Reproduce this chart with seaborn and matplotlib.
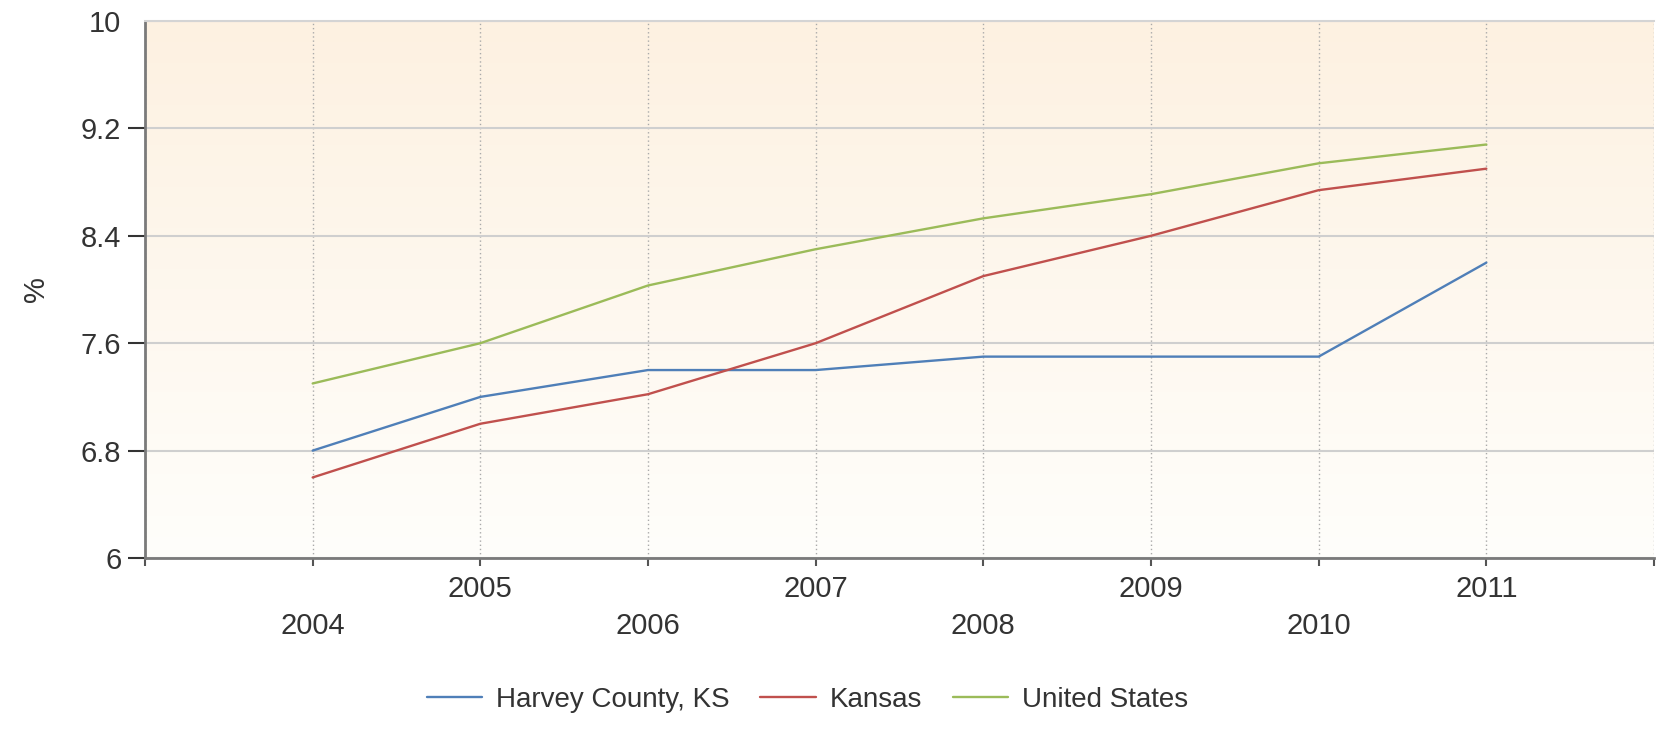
import numpy as np
import pandas as pd
import matplotlib
matplotlib.use("Agg")
import matplotlib.pyplot as plt
import seaborn as sns

# Dados
anos = [2004, 2005, 2006, 2007, 2008, 2009, 2010, 2011]
harvey = [6.8, 7.2, 7.4, 7.4, 7.5, 7.5, 7.5, 8.2]
kansas = [6.6, 7.0, 7.22, 7.6, 8.1, 8.4, 8.74, 8.9]
eua = [7.3, 7.6, 8.03, 8.3, 8.53, 8.71, 8.94, 9.08]
series = ["Harvey County, KS", "Kansas", "United States"]
cores = ["#4f7fb8", "#c0504d", "#9bbb59"]
y_ticks = [6, 6.8, 7.6, 8.4, 9.2, 10]
y_labels = ["6", "6.8", "7.6", "8.4", "9.2", "10"]

df = pd.DataFrame({
    "ano": anos * 3,
    "valor": harvey + kansas + eua,
    "serie": np.repeat(series, len(anos)),
})

sns.set_style("white")
plt.rcParams["font.family"] = ["Liberation Sans", "DejaVu Sans"]

fig = plt.figure(figsize=(16.68, 7.3), dpi=100)
ax = fig.add_axes([145 / 1668, 1 - 558 / 730, (1654 - 145) / 1668, (558 - 21) / 730])

# fundo em degradê (pêssego em cima, quase branco embaixo)
grad = np.linspace(0, 1, 256).reshape(-1, 1)
cmap = matplotlib.colors.LinearSegmentedColormap.from_list("bg", ["#fdf1e1", "#fffefb"])
ax.imshow(grad, aspect="auto", cmap=cmap, extent=[2003, 2012, 6, 10], origin="upper", zorder=0)

sns.lineplot(data=df, x="ano", y="valor", hue="serie", palette=dict(zip(series, cores)),
             linewidth=1.7, ax=ax, zorder=3)

ax.set_xlim(2003, 2012)
ax.set_ylim(6, 10)

# anos ímpares perto do eixo, anos pares mais abaixo
ax.set_xticks([2003, 2005, 2007, 2009, 2011])
ax.set_xticklabels(["", "2005", "2007", "2009", "2011"])
ax.set_xticks([2004, 2006, 2008, 2010, 2012], minor=True)
ax.set_xticklabels(["2004", "2006", "2008", "2010", ""], minor=True)
ax.tick_params(axis="x", which="major", direction="out", length=6, width=1.5,
               color="#555555", pad=6, labelsize=21, labelcolor="#333333")
ax.tick_params(axis="x", which="minor", direction="out", length=6, width=1.5,
               color="#555555", pad=33, labelsize=21, labelcolor="#333333")
ax.tick_params(axis="x", which="both", bottom=True)

ax.set_yticks(y_ticks)
ax.set_yticklabels(y_labels)
ax.tick_params(axis="y", direction="out", length=12, width=1.5, color="#333333",
               pad=5, labelsize=21, labelcolor="#333333", left=True)
ax.yaxis.get_major_ticks()[-1].tick1line.set_visible(False)

ax.grid(axis="y", color="#cfcfcf", linewidth=1.5, linestyle="-", zorder=1)
ax.grid(axis="x", which="both", color="#aaaaaa", linewidth=1.0, linestyle=(0, (1, 2)), zorder=1)
ax.set_axisbelow(True)

for lado in ["left", "bottom"]:
    ax.spines[lado].set_color("#7a7a7a")
    ax.spines[lado].set_linewidth(2)
ax.spines["top"].set_color("#d4d4d4")
ax.spines["top"].set_linewidth(1.5)
ax.spines["right"].set_visible(False)

ax.set_xlabel("")
ax.set_ylabel("%", fontsize=21, color="#333333", labelpad=22)

handles, labels = ax.get_legend_handles_labels()
ax.get_legend().remove()
fig.legend(handles, labels, loc="center", bbox_to_anchor=(0.484, 1 - 700 / 730), ncol=3,
           frameon=False, fontsize=20, handlelength=2.0, handletextpad=0.5,
           columnspacing=1.1, labelcolor="#333333")

fig.savefig("out.png", dpi=100)
